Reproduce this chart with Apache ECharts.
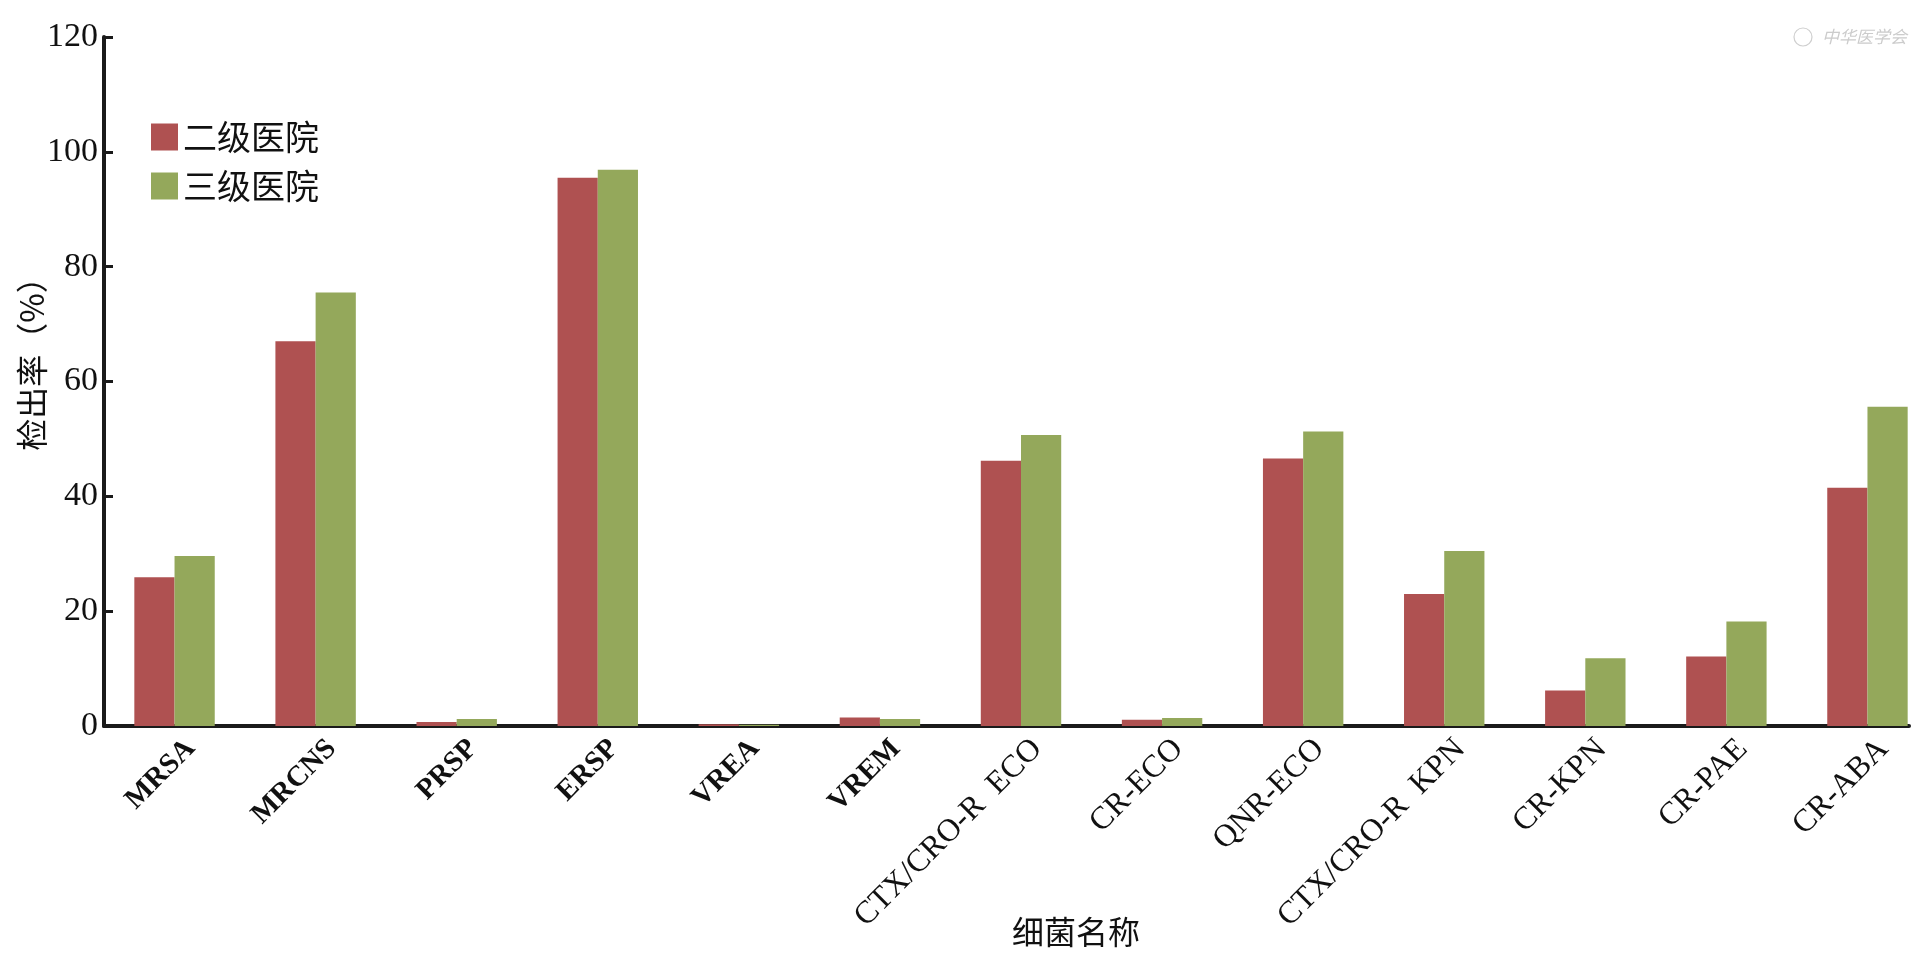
<!DOCTYPE html>
<html>
<head>
<meta charset="utf-8">
<title>细菌检出率</title>
<script src="https://cdn.jsdelivr.net/npm/echarts@6/dist/echarts.min.js"></script>
<style>
  html, body { margin: 0; padding: 0; background: #fff; overflow: hidden; }
  /* 比窗口宽一点：最后一个类目在1909处被截断 */
  #myChart { width: 1950px; height: 956px; }
</style>
</head>
<body>
<div id="myChart"></div>
<script>
// 细菌名称
const categories = ['MRSA', 'MRCNS', 'PRSP', 'ERSP', 'VREA', 'VREM', 'CTX/CRO-R  ECO', 'CR-ECO', 'QNR-ECO', 'CTX/CRO-R  KPN', 'CR-KPN', 'CR-PAE', 'CR-ABA'];
// 二级医院
const level2Values = [25.9, 67.0, 0.7, 95.5, 0.3, 1.5, 46.2, 1.1, 46.6, 23.0, 6.2, 12.1, 41.5];
// 三级医院
const level3Values = [29.6, 75.5, 1.2, 96.9, 0.2, 1.2, 50.7, 1.4, 51.3, 30.5, 11.8, 18.2, 55.6];
const boldCount = 6; // 前6个标签是粗体

const serif = "'Liberation Serif', 'DejaVu Serif', serif";
const cjk = "'Noto Sans CJK SC', sans-serif";

let myChart = echarts.init(document.getElementById('myChart'));
myChart.setOption({
  animation: false,
  legend: {
    orient: 'vertical',
    left: 151,
    top: 120,
    padding: 0,
    icon: 'rect',
    itemWidth: 27,
    itemHeight: 27,
    itemGap: 15,
    textStyle: { fontSize: 34, fontFamily: cjk, color: '#111' },
    data: ['二级医院', '三级医院'],
  },
  grid: [
    { left: 104, top: 37, width: 1834, height: 689 },
    // 只用来画x轴线（到1909为止）
    { left: 104, top: 37, width: 1805, height: 689 },
  ],
  xAxis: [
    {
      type: 'category',
      gridIndex: 0,
      data: categories,
      axisLine: { show: false },
      axisTick: { show: false },
      axisLabel: {
        rotate: 45,
        margin: 2,
        interval: 0,
        padding: [46, 0, 0, 0],
        formatter: function (v, i) {
          return i < boldCount ? '{b|' + v + '}' : '{n|' + v + '}';
        },
        rich: {
          b: { fontFamily: serif, fontWeight: 'bold', fontSize: 29, color: '#111' },
          n: { fontFamily: serif, fontSize: 32, color: '#111' },
        },
      },
    },
    {
      type: 'category',
      gridIndex: 1,
      data: categories,
      axisLine: { show: true, lineStyle: { color: '#1a1a1a', width: 4 } },
      axisTick: { show: false },
      axisLabel: { show: false },
    },
  ],
  yAxis: [
    {
      type: 'value',
      gridIndex: 0,
      min: 0,
      max: 120,
      interval: 20,
      axisLine: { show: true, lineStyle: { color: '#1a1a1a', width: 4 } },
      axisTick: { show: true, inside: true, length: 9, lineStyle: { color: '#1a1a1a', width: 3 } },
      axisLabel: { margin: 6, fontFamily: serif, fontSize: 34, color: '#111' },
      splitLine: { show: false },
    },
    { type: 'value', gridIndex: 1, show: false, min: 0, max: 120 },
  ],
  series: [
    {
      name: '二级医院',
      type: 'bar',
      data: level2Values,
      barGap: '0%',
      barCategoryGap: '43%',
      itemStyle: { color: '#AF5151' },
    },
    {
      name: '三级医院',
      type: 'bar',
      data: level3Values,
      itemStyle: { color: '#94A85B' },
    },
  ],
  graphic: [
    {
      type: 'text',
      x: 32,
      y: 356,
      rotation: Math.PI / 2,
      style: { text: '检出率（%）', fontSize: 32, fontFamily: cjk, fill: '#111', align: 'center', verticalAlign: 'middle' },
    },
    {
      type: 'text',
      x: 1076,
      y: 932,
      style: { text: '细菌名称', fontSize: 32, fontFamily: cjk, fill: '#111', align: 'center', verticalAlign: 'middle' },
    },
    // 右上角水印
    {
      type: 'circle',
      shape: { cx: 1803, cy: 37, r: 9 },
      style: { fill: 'none', stroke: '#cfcfcf', lineWidth: 1.2 },
    },
    {
      type: 'text',
      x: 1822,
      y: 37,
      style: { text: '中华医学会', fontSize: 17, fontFamily: cjk, fontStyle: 'italic', fill: '#cccccc', verticalAlign: 'middle' },
    },
  ],
});
</script>
</body>
</html>
